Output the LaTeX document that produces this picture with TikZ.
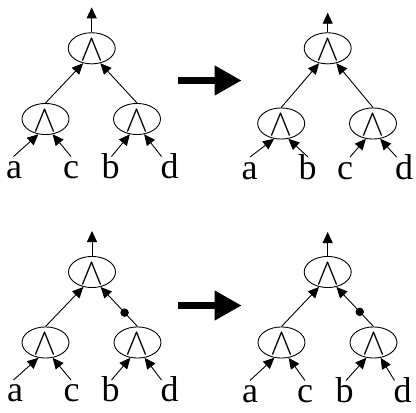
\documentclass[tikz,border=0pt]{standalone}
\usepackage{graphicx}
\usepackage{fontspec}
\setmainfont{Liberation Serif}
\usetikzlibrary{shapes.geometric,arrows.meta}
\newcommand{\andsym}{\raisebox{-4pt}[11pt][11pt]{$\vcenter{\hbox{\resizebox*{23pt}{21pt}{$\wedge$}}}$}}
\tikzset{
  opnode/.style={ellipse, draw, line width=0.9pt, minimum width=47pt, minimum height=31pt, inner sep=0pt},
  edgearr/.style={line width=0.9pt, -{Triangle[length=11pt,width=10pt]}},
  leaf/.style={anchor=base, inner sep=0pt, font=\fontsize{36}{40}\selectfont},
  bigarr/.style={line width=7pt, -{Triangle[length=27pt,width=28pt]}},
  dotnode/.style={circle, fill, inner sep=0pt, minimum size=8.5pt}
}
\begin{document}
\begin{tikzpicture}[x=1pt,y=-1pt]
\useasboundingbox (0,0) rectangle (416,413);
% ---------- top-left tree ----------
\node[opnode] (T1) at (91.7,48.3) {\andsym};
\node[opnode] (L1) at (45.5,119) {\andsym};
\node[opnode] (R1) at (137,119) {\andsym};
\coordinate (o1) at (91.7,7.3);
\node[leaf] (a1) at (14,178) {a};
\node[leaf] (c1) at (71,178) {c};
\node[leaf] (b1) at (110.5,178) {b};
\node[leaf] (d1) at (169.5,178) {d};
\coordinate (sa1) at (13.5,156.5);
\coordinate (sc1) at (71,156.5);
\coordinate (sb1) at (111.5,156.5);
\coordinate (sd1) at (161.5,156.5);
\draw[edgearr] (T1.north) -- (o1);
\draw[edgearr] (L1.north) -- (T1.240);
\draw[edgearr] (R1.north) -- (T1.300);
\draw[edgearr] (sa1) -- (L1.245);
\draw[edgearr] (sc1) -- (L1.295);
\draw[edgearr] (sb1) -- (R1.245);
\draw[edgearr] (sd1) -- (R1.295);
% ---------- top-right tree ----------
\node[opnode] (T2) at (327.7,48.3) {\andsym};
\node[opnode] (L2) at (281.2,123.5) {\andsym};
\node[opnode] (R2) at (373,123.5) {\andsym};
\coordinate (o2) at (327.7,12.7);
\node[leaf] (a2) at (249.5,179) {a};
\node[leaf] (b2) at (307.5,179) {b};
\node[leaf] (c2) at (345,179) {c};
\node[leaf] (d2) at (404,179) {d};
\coordinate (sa2) at (250,157);
\coordinate (sb2) at (308,157);
\coordinate (sc2) at (350,157);
\coordinate (sd2) at (396.5,157);
\draw[edgearr] (T2.north) -- (o2);
\draw[edgearr] (L2.north) -- (T2.240);
\draw[edgearr] (R2.north) -- (T2.300);
\draw[edgearr] (sa2) -- (L2.245);
\draw[edgearr] (sb2) -- (L2.295);
\draw[edgearr] (sc2) -- (R2.245);
\draw[edgearr] (sd2) -- (R2.295);
% ---------- bottom-left tree ----------
\node[opnode] (T3) at (92,272) {\andsym};
\node[opnode] (L3) at (45.5,342.5) {\andsym};
\node[opnode] (R3) at (137.5,342.5) {\andsym};
\coordinate (o3) at (92,231);
\node[leaf] (a3) at (15,401.5) {a};
\node[leaf] (c3) at (71.5,401.5) {c};
\node[leaf] (b3) at (110.5,401.5) {b};
\node[leaf] (d3) at (169.5,401.5) {d};
\coordinate (sa3) at (13.5,380);
\coordinate (sc3) at (71,380);
\coordinate (sb3) at (111.5,380);
\coordinate (sd3) at (161.5,380);
\draw[edgearr] (T3.north) -- (o3);
\draw[edgearr] (L3.north) -- (T3.240);
\draw[edgearr] (R3.north) -- node[dotnode, pos=0.35] (k3) {} (T3.300);
\draw[edgearr] (sa3) -- (L3.245);
\draw[edgearr] (sc3) -- (L3.295);
\draw[edgearr] (sb3) -- (R3.245);
\draw[edgearr] (sd3) -- (R3.295);
% ---------- bottom-right tree ----------
\node[opnode] (T4) at (327.7,272) {\andsym};
\node[opnode] (L4) at (281.5,342.5) {\andsym};
\node[opnode] (R4) at (373.5,342.5) {\andsym};
\coordinate (o4) at (327.7,232);
\node[leaf] (a4) at (250,402) {a};
\node[leaf] (c4) at (305,402) {c};
\node[leaf] (b4) at (344.5,402) {b};
\node[leaf] (d4) at (402.5,402) {d};
\coordinate (sa4) at (250,380.5);
\coordinate (sc4) at (305,380.5);
\coordinate (sb4) at (346,380.5);
\coordinate (sd4) at (394.5,380.5);
\draw[edgearr] (T4.north) -- (o4);
\draw[edgearr] (L4.north) -- (T4.240);
\draw[edgearr] (R4.north) -- node[dotnode, pos=0.37] (k4) {} (T4.300);
\draw[edgearr] (sa4) -- (L4.245);
\draw[edgearr] (sc4) -- (L4.295);
\draw[edgearr] (sb4) -- (R4.245);
\draw[edgearr] (sd4) -- (R4.295);
% ---------- big arrows ----------
\coordinate (p1) at (178,80.5);
\coordinate (q1) at (241.7,80.5);
\coordinate (p2) at (178,305.5);
\coordinate (q2) at (241.7,305.5);
\draw[bigarr] (p1) -- (q1);
\draw[bigarr] (p2) -- (q2);
\end{tikzpicture}
\end{document}
